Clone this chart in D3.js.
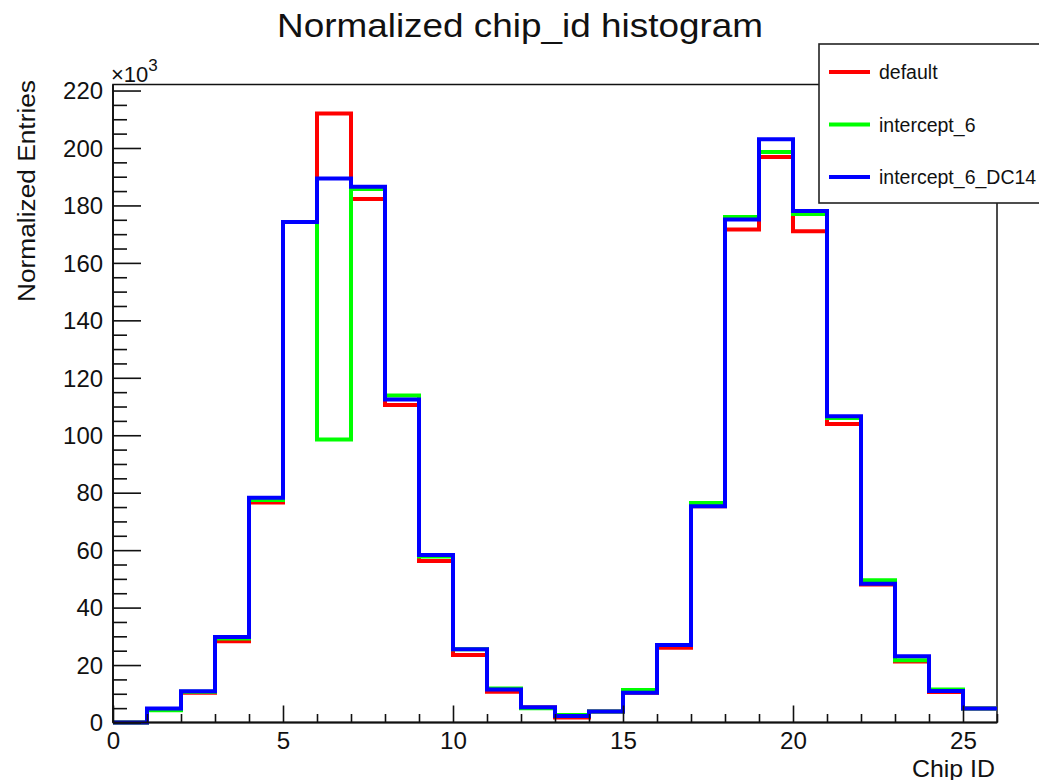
<!DOCTYPE html>
<html>
<head>
<meta charset="utf-8">
<script src="https://cdn.jsdelivr.net/npm/d3@7"></script>
<style>
  html, body { margin: 0; padding: 0; background: #fff; overflow: hidden; }
  svg { display: block; font-family: "Liberation Sans", Arial, sans-serif; }
</style>
</head>
<body>
<svg id="chart" width="1039" height="780"></svg>
<script>
// ---- data (values in units of 10^3 entries) ----
const binEdges = d3.range(0, 27);           // chip id bin edges 0..26
const seriesNames = ["default", "intercept_6", "intercept_6_DC14"];
const seriesColors = ["#ff0000", "#00ff00", "#0000ff"];
const valuesDefault = [0, 4.7, 10.4, 28.3, 76.6, 174.2, 212.0, 182.2, 110.5, 56.2, 23.5, 10.7, 5.2, 1.7, 3.8, 10.4, 26.0, 75.3, 171.6, 196.9, 171.0, 103.9, 48.0, 21.2, 10.6, 4.9];
const valuesIntercept6 = [0, 4.3, 10.7, 29.2, 77.5, 174.2, 98.5, 185.7, 113.8, 57.8, 25.5, 11.8, 5.0, 2.6, 3.8, 11.3, 27.0, 76.4, 176.0, 198.6, 177.0, 106.0, 49.5, 21.7, 11.5, 4.9];
const valuesIntercept6DC14 = [0, 4.9, 10.9, 29.8, 78.2, 174.2, 189.4, 186.5, 112.4, 58.3, 25.5, 11.5, 5.3, 2.3, 3.8, 10.4, 27.0, 75.3, 175.1, 203.0, 178.1, 106.6, 48.3, 23.1, 11.0, 4.9];
const xMajorTicks = [0, 5, 10, 15, 20, 25];
const yMajorTicks = [0, 20, 40, 60, 80, 100, 120, 140, 160, 180, 200, 220];
const titleText = "Normalized chip_id histogram";
const xTitle = "Chip ID";
const yTitle = "Normalized Entries";

const allSeries = [valuesDefault, valuesIntercept6, valuesIntercept6DC14];

// ---- layout ----
const L = 113, R = 997, T = 84.5, B = 722.5;
const svg = d3.select("#chart");
const FONT = "Liberation Sans, Arial, sans-serif";

const x = d3.scaleLinear().domain([0, 26]).range([L, R]);
const y = d3.scaleLinear().domain([0, 222.1]).range([B, T]);

function stretch(sel, factor) {
  sel.each(function () {
    const w = this.getComputedTextLength();
    d3.select(this).attr("textLength", w * factor).attr("lengthAdjust", "spacingAndGlyphs");
  });
}

// Frame
svg.append("rect").attr("x", L).attr("y", T).attr("width", R - L).attr("height", B - T)
  .attr("fill", "none").attr("stroke", "#111").attr("stroke-width", 1.5);

// Histograms
const line = d3.line().x(d => d[0]).y(d => d[1]);
allSeries.forEach((vals, si) => {
  const pts = [];
  vals.forEach((v, i) => {
    pts.push([x(binEdges[i]), y(v)]);
    pts.push([x(binEdges[i + 1]), y(v)]);
  });
  svg.append("path").attr("d", line(pts)).attr("fill", "none")
    .attr("stroke", seriesColors[si]).attr("stroke-width", 4)
    .attr("stroke-linejoin", "miter");
});

// Y axis
const yMinor = d3.range(0, 221, 5).filter(v => v % 20 !== 0);
const yAxisMinor = svg.append("g").attr("transform", `translate(${L},0)`)
  .call(d3.axisLeft(y).tickValues(yMinor).tickSizeInner(-14).tickSizeOuter(0).tickFormat(""));
const yAxis = svg.append("g").attr("transform", `translate(${L},0)`)
  .call(d3.axisLeft(y).tickValues(yMajorTicks).tickSizeInner(-28).tickSizeOuter(0).tickPadding(10));
[yAxisMinor, yAxis].forEach(g => {
  g.select(".domain").remove();
  g.selectAll("line").attr("stroke", "#111").attr("stroke-width", 1.6);
});
yAxis.selectAll("text").attr("font-size", 23).attr("fill", "#111")
  .attr("font-family", FONT).attr("dy", "0.36em");
stretch(yAxis.selectAll("text"), 1.04);

// X axis
const xMinor = d3.range(0, 27).filter(v => v % 5 !== 0);
const xAxisMinor = svg.append("g").attr("transform", `translate(0,${B})`)
  .call(d3.axisBottom(x).tickValues(xMinor).tickSizeInner(-8.5).tickSizeOuter(0).tickFormat(""));
const xAxis = svg.append("g").attr("transform", `translate(0,${B})`)
  .call(d3.axisBottom(x).tickValues(xMajorTicks).tickSizeInner(-17).tickSizeOuter(0));
[xAxisMinor, xAxis].forEach(g => {
  g.select(".domain").remove();
  g.selectAll("line").attr("stroke", "#111").attr("stroke-width", 1.6);
});
xAxis.selectAll("text").attr("font-size", 23).attr("fill", "#111")
  .attr("font-family", FONT)
  .attr("y", 26.5).attr("dy", 0);
stretch(xAxis.selectAll("text"), 1.05);

// Axis lines on top
svg.append("line").attr("x1", L).attr("x2", L).attr("y1", T).attr("y2", B).attr("stroke", "#111").attr("stroke-width", 1.8);
svg.append("line").attr("x1", L).attr("x2", R).attr("y1", B).attr("y2", B).attr("stroke", "#111").attr("stroke-width", 1.8);

// x10^3 exponent label
const expo = svg.append("text").attr("x", 111).attr("y", 81.5).attr("font-size", 22).attr("fill", "#111");
expo.append("tspan").text("\u00d710");
expo.append("tspan").attr("dy", -11).attr("font-size", 17).text("3");

// Title
svg.append("text").attr("x", 520).attr("y", 37).attr("text-anchor", "middle")
  .attr("font-size", 33).attr("fill", "#111").text(titleText)
  .attr("textLength", 486).attr("lengthAdjust", "spacingAndGlyphs");

// Axis titles
svg.append("text").attr("x", R - 2).attr("y", 776.5).attr("text-anchor", "end")
  .attr("font-size", 24).attr("fill", "#111").text(xTitle)
  .attr("textLength", 83).attr("lengthAdjust", "spacingAndGlyphs");
svg.append("text").attr("transform", "translate(35,80) rotate(-90)").attr("text-anchor", "end")
  .attr("font-size", 23).attr("fill", "#111").text(yTitle)
  .attr("textLength", 222).attr("lengthAdjust", "spacingAndGlyphs");

// Legend (box runs past the right edge, as in the reference)
const lg = svg.append("g");
lg.append("rect").attr("x", 819).attr("y", 44).attr("width", 240).attr("height", 159)
  .attr("fill", "#fff").attr("stroke", "#222").attr("stroke-width", 1.6);
const legY = d3.scalePoint().domain(seriesNames).range([72, 177]);
seriesNames.forEach((name, i) => {
  lg.append("line").attr("x1", 829).attr("x2", 870).attr("y1", legY(name)).attr("y2", legY(name))
    .attr("stroke", seriesColors[i]).attr("stroke-width", 4.2);
  lg.append("text").attr("x", 879).attr("y", legY(name) + 7).attr("font-size", 19.5)
    .attr("fill", "#111").text(name);
});
</script>
</body>
</html>
